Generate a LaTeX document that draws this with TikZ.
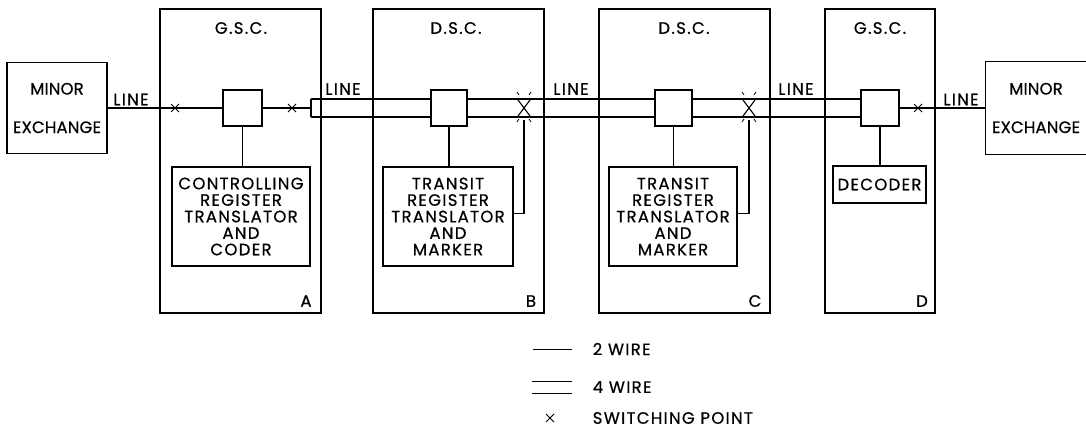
\documentclass[tikz,border=0pt]{standalone}
\usepackage{fontspec}
\newfontfamily\lblfont{Poppins}[LetterSpace=8, FakeBold=0.6]
\newcommand\lbl{\lblfont\fontsize{16.5}{16.5}\selectfont}
\begin{document}
\begin{tikzpicture}[x=1pt, y=-1pt, line width=1.5pt,
    every node/.style={inner sep=0pt, align=center, font=\lbl},
    centre/.style={draw, minimum width=#1, minimum height=304},
    swbox/.style={draw, minimum width=#1, minimum height=36},
    ctl/.style={draw, minimum width=#1, minimum height=99},
    exch/.style={minimum width=100, minimum height=91, font=\lbl\addfontfeature{LetterSpace=1}},
    sx/.pic={\draw[line width=1pt] (-4,-4)--(4,4) (-4,4)--(4,-4);},
    bx/.pic={\draw[line width=1.1pt] (-6,-8)--(6,8) (-6,8)--(6,-8);
        \draw[line width=0.8pt] (-7,-16)--(-5,-13) (7,-16)--(5,-13) (-7,14)--(-5,11) (7,14)--(5,11);}]
    \useasboundingbox (0,0) rectangle (1086,428);
    \node[centre=161] (A) at (240.5,161) {};
    \node[centre=171] (B) at (458.5,161) {};
    \node[centre=171] (C) at (684.5,161) {};
    \node[centre=110] (D) at (880,161) {};
    \node (tA) at (241,28) {G.S.C.};
    \node (tB) at (456,28) {D.S.C.};
    \node (tC) at (684,28) {D.S.C.};
    \node (tD) at (880,28) {G.S.C.};
    \node (nA) at (306,301) {A};
    \node (nB) at (531,301) {B};
    \node (nC) at (755,301) {C};
    \node (nD) at (922,301) {D};
    \node[exch, draw] (ex1) at (57,108) {MINOR\\[22pt]EXCHANGE};
    \node[exch] (ex2) at (1036,108) {MINOR\\[22pt]EXCHANGE};
    \draw (ex2.north east) -- (ex2.north west) -- (ex2.south west) -- (ex2.south east);
    \node[swbox=39] (sA) at (242.5,108) {};
    \node[swbox=36] (sB) at (449,108) {};
    \node[swbox=37] (sC) at (673.5,108) {};
    \node[swbox=38] (sD) at (880,108) {};
    \node[ctl=138] (cA) at (241,216.5) {CONTROLLING\\REGISTER\\TRANSLATOR\\AND\\CODER};
    \node[ctl=130] (cB) at (448,216.5) {TRANSIT\\REGISTER\\TRANSLATOR\\AND\\MARKER};
    \node[ctl=128] (cC) at (673,216.5) {TRANSIT\\REGISTER\\TRANSLATOR\\AND\\MARKER};
    \node[draw, minimum width=93, minimum height=37] (dec) at (879.5,184.5) {DECODER};
    \draw (sA.south) -- (sA.south |- cA.north);
    \draw (sB.south) -- (sB.south |- cB.north);
    \draw (sC.south) -- (sC.south |- cC.north);
    \draw (sD.south) -- (sD.south |- dec.north);
    \coordinate (xA1) at (175,108);
    \coordinate (xA2) at (292,108);
    \coordinate (capA) at (311,108);
    \coordinate (xB) at (524,108);
    \coordinate (xC) at (749,108);
    \coordinate (xD) at (918,108);
    \coordinate (fB) at (524,120);
    \coordinate (fC) at (749,120);
    \draw (ex1.east) -- (sA.west);
    \draw (sA.east) -- (capA);
    \draw ([yshift=9]capA) -- ([yshift=-9]capA);
    \foreach \a/\b in {capA/sB.west, sB.east/sC.west, sC.east/sD.west}
        \draw ([yshift=9]\a) -- ([yshift=9]\b) ([yshift=-9]\a) -- ([yshift=-9]\b);
    \draw (sD.east) -- (ex2.west);
    \draw ([yshift=3]cB.east) -| (fB);
    \draw ([yshift=3]cC.east) -| (fC);
    \foreach \p in {xA1, xA2, xD} \pic at (\p) {sx};
    \foreach \p in {xB, xC} \pic at (\p) {bx};
    \node (l1) at (131,99.5) {LINE};
    \node (l2) at (343,89) {LINE};
    \node (l3) at (571,89) {LINE};
    \node (l4) at (796,89) {LINE};
    \node (l5) at (961,99.5) {LINE};
    \coordinate (k2) at (533,349);
    \coordinate (k4) at (532,387);
    \coordinate (ks) at (550,418);
    \draw[line width=1pt] (k2) -- ++(39,0);
    \draw[line width=1pt] ([yshift=6]k4) -- ++(40,0) ([yshift=-6]k4) -- ++(40,0);
    \pic at (ks) {sx};
    \node[anchor=west] (w2) at (592,349) {2 WIRE};
    \node[anchor=west] (w4) at (592,387) {4 WIRE};
    \node[anchor=west] (ws) at (592,418) {SWITCHING POINT};
\end{tikzpicture}
\end{document}
